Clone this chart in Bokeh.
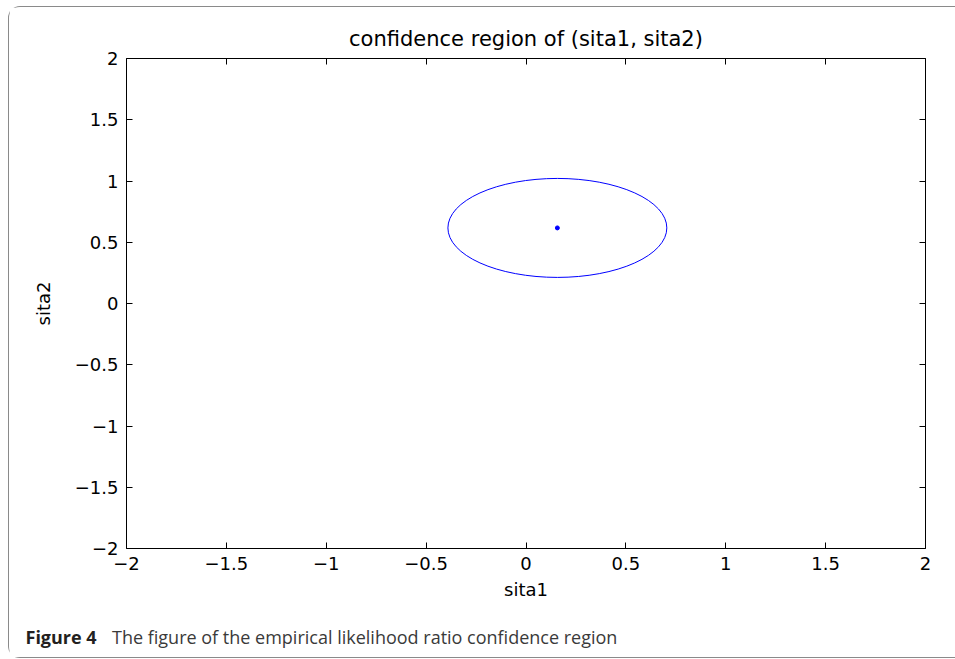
from bokeh.plotting import figure
from bokeh.layouts import column
from bokeh.models import LinearAxis, FixedTicker, Range1d
from bokeh.core.properties import value
from bokeh.embed import file_html
from bokeh.resources import INLINE

# ---- data ----
tick_values = [-2, -1.5, -1, -0.5, 0, 0.5, 1, 1.5, 2]
tick_labels = ["\u22122", "\u22121.5", "\u22121", "\u22120.5", "0", "0.5", "1", "1.5", "2"]
estimate_x = [0.157]          # point estimate sita1
estimate_y = [0.617]          # point estimate sita2
region_width = [1.096]        # full width of confidence region (sita1 direction)
region_height = [0.808]       # full height of confidence region (sita2 direction)
title_text = "confidence region of (sita1, sita2)"
xlabel = "sita1"
ylabel = "sita2"
caption_bold = "Figure 4"
caption_text = "The figure of the empirical likelihood ratio confidence region"

FONT = "DejaVu Sans"
W = 946

p = figure(width=W, height=605, output_backend="svg", toolbar_location=None,
           x_range=Range1d(-2, 2), y_range=Range1d(-2, 2),
           min_border_left=117, min_border_right=30, min_border_top=51, min_border_bottom=64,
           title=title_text)
p.frame_align = False

p.title.align = "center"
p.title.text_font = FONT
p.title.text_font_size = "21px"
p.title.text_font_style = "normal"
p.title.text_color = "black"
p.title.standoff = 15
p.grid.visible = False
p.outline_line_color = None
p.background_fill_color = "white"
p.border_fill_color = "white"

ticker = FixedTicker(ticks=tick_values)
overrides = {v: l for v, l in zip(tick_values, tick_labels)}
blank = {v: "" for v in tick_values}


def style_axis(ax, labels=True):
    ax.ticker = ticker
    ax.major_tick_in = 6
    ax.major_tick_out = 0
    ax.minor_tick_line_color = None
    ax.axis_line_color = "black"
    ax.major_tick_line_color = "black"
    ax.axis_line_width = 1
    if labels:
        ax.major_label_overrides = overrides
        ax.major_label_text_font = FONT
        ax.major_label_text_font_size = "18px"
        ax.major_label_text_color = "black"
        ax.major_label_standoff = 8
        ax.axis_label_text_font = FONT
        ax.axis_label_text_font_size = "18px"
        ax.axis_label_text_font_style = "normal"
        ax.axis_label_text_color = "black"
    else:
        ax.major_label_overrides = blank
        ax.major_label_text_font_size = "1px"
        ax.major_label_standoff = 0


style_axis(p.xaxis[0])
style_axis(p.yaxis[0])
p.xaxis[0].axis_label = xlabel
p.yaxis[0].axis_label = ylabel
p.xaxis[0].axis_label_standoff = 6
p.yaxis[0].axis_label_standoff = 18

top_ax = LinearAxis()
right_ax = LinearAxis()
style_axis(top_ax, labels=False)
style_axis(right_ax, labels=False)
p.add_layout(top_ax, "above")
p.add_layout(right_ax, "right")

p.ellipse(x=estimate_x, y=estimate_y, width=region_width, height=region_height,
          fill_color=None, line_color="blue", line_width=1)
p.scatter(x=estimate_x, y=estimate_y, size=4, color="blue")

# ---- caption strip (separate svg figure, pixel coordinates) ----
CH = 45
cap = figure(width=W, height=CH, output_backend="svg", toolbar_location=None,
             x_range=Range1d(0, W), y_range=Range1d(0, CH),
             min_border=0, min_border_left=0, min_border_right=0,
             min_border_top=0, min_border_bottom=0)
cap.frame_align = False
cap.axis.visible = False
cap.grid.visible = False
cap.outline_line_color = None
cap.background_fill_color = "white"
cap.border_fill_color = "white"
cap.text(x=[16], y=[21], text=[caption_bold], text_font=value("Open Sans"),
         text_font_size="18px", text_font_style="bold", text_color="#231f20",
         text_baseline="alphabetic", text_align="left")
cap.text(x=[102.5], y=[21], text=[caption_text], text_font=value("Open Sans"),
         text_font_size="18px", text_color="#3a3a3a",
         text_baseline="alphabetic", text_align="left")

layout = column(p, cap, spacing=0)
layout.styles = {"margin-left": "8px", "margin-top": "6px",
                 "border-top": "1px solid #8a8a8a", "border-left": "1px solid #8a8a8a",
                 "border-bottom": "1px solid #8a8a8a",
                 "border-radius": "12px 0 0 12px"}

open("out.html", "w").write(file_html(layout, INLINE))
